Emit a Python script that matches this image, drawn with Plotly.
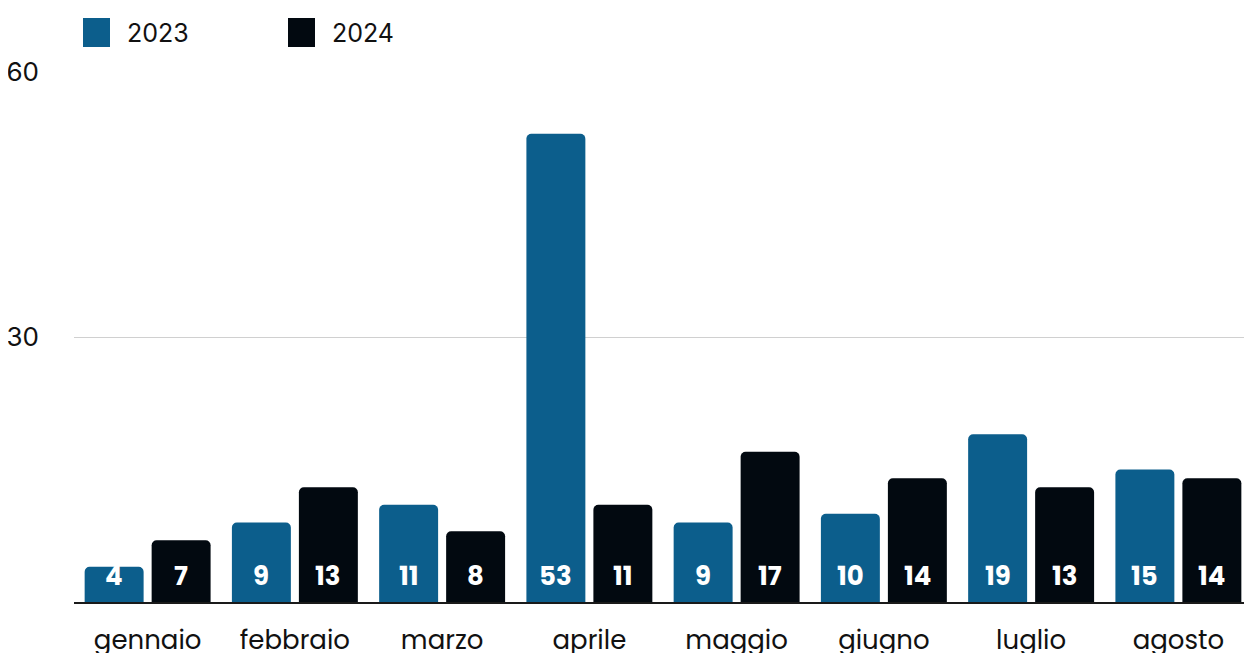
import plotly.graph_objects as go

months = ["gennaio", "febbraio", "marzo", "aprile", "maggio", "giugno", "luglio", "agosto"]
series_names = ["2023", "2024"]
values_2023 = [4, 9, 11, 53, 9, 10, 19, 15]
values_2024 = [7, 13, 8, 11, 17, 14, 13, 14]
colors = ["#0c5e8c", "#020910"]
y_ticks = [30, 60]

PLOT_W, PLOT_H = 1178, 531
BARGAP, GROUPGAP = 0.09, 0.12

fig = go.Figure()
series = [values_2023, values_2024]
for name, vals, col in zip(series_names, series, colors):
    fig.add_trace(go.Bar(
        x=months, y=vals, name=name, marker=dict(color=col, line=dict(width=0)),
        showlegend=False, hoverinfo="x+y+name",
    ))

# value labels near the base of each bar
cat_px = PLOT_W / len(months)
slot_px = cat_px * (1 - BARGAP) / len(series)
for i, vals in enumerate(series):
    for m, v in zip(months, vals):
        fig.add_annotation(x=m, y=0, text=str(v), showarrow=False,
                           xshift=(i - (len(series) - 1) / 2) * slot_px, yshift=26,
                           xanchor="center", yanchor="middle",
                           font=dict(family="Poppins, Inter, sans-serif", size=26,
                                     color="white", weight="bold"))

# legend drawn as squares + text
leg_x = [83, 288]
for name, col, lx in zip(series_names, colors, leg_x):
    fig.add_shape(type="rect", xref="paper", yref="paper",
                  x0=(lx - 74) / PLOT_W, x1=(lx + 27 - 74) / PLOT_W,
                  y0=(602 - 47) / PLOT_H, y1=(602 - 18) / PLOT_H,
                  fillcolor=col, line=dict(width=0))
    fig.add_annotation(xref="paper", yref="paper", x=(lx + 42 - 74) / PLOT_W, y=(602 - 33) / PLOT_H,
                       text=name, showarrow=False, xanchor="left", yanchor="middle",
                       font=dict(family="Inter, sans-serif", size=25, color="#111"))

fig.update_layout(
    width=1244, height=645,
    margin=dict(l=66, r=0, t=63, b=51, autoexpand=False),
    paper_bgcolor="white", plot_bgcolor="white",
    barmode="group", bargap=BARGAP, bargroupgap=GROUPGAP, barcornerradius=5,
    xaxis=dict(showgrid=False, showline=True, linecolor="#1a1a1a", linewidth=2,
               ticks="", ticklabelstandoff=14, automargin=False,
               tickfont=dict(family="Poppins, Inter, sans-serif", size=26, color="#111")),
    yaxis=dict(range=[0, 60 * PLOT_H / 530], tickvals=y_ticks, showgrid=True,
               gridcolor="#d0d0d0", gridwidth=1, automargin=False,
               zeroline=False, showline=False, ticks="", ticklabelstandoff=34,
               tickfont=dict(family="Inter, sans-serif", size=26, color="#111")),
)

fig.write_html("out.html")
